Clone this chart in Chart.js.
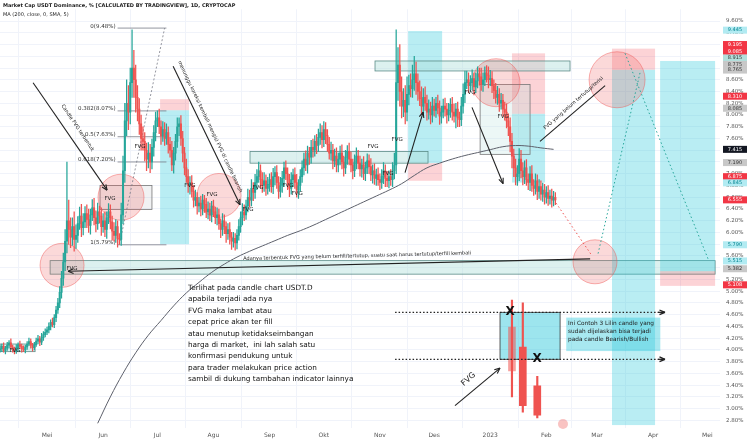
<!DOCTYPE html>
<html>
<head>
<meta charset="utf-8">
<script src="https://cdn.jsdelivr.net/npm/chart.js@4.4.0/dist/chart.umd.min.js"></script>
<style>
  html, body { margin: 0; padding: 0; background: #fff; }
  #wrap { width: 750px; height: 442px; position: relative; }
</style>
</head>
<body>
<div id="wrap"><canvas id="myChart"></canvas></div>
<script>
// day 0 = 1 Mei 2022, first candle = 5 Apr 2022
const firstDay = -26;
const firstOpen = 4.00;
const monthDays = [0, 31, 61, 92, 123, 153, 184, 214, 245, 276, 304, 335, 365];
const monthNames = ['Mei', 'Jun', 'Jul', 'Agu', 'Sep', 'Okt', 'Nov', 'Des', '2023', 'Feb', 'Mar', 'Apr', 'Mei'];
const yTicks = [2.8, 3.0, 3.2, 3.4, 3.6, 3.8, 4.0, 4.2, 4.4, 4.6, 4.8, 5.0, 5.2, 5.4, 5.6, 5.8, 6.0,
    6.2, 6.4, 6.6, 6.8, 7.0, 7.2, 7.4, 7.6, 7.8, 8.0, 8.2, 8.4, 8.6, 8.8, 9.0, 9.2, 9.4, 9.6];

// daily closes (%)
const closes = [
    // Apr
    4.02, 4.06, 3.99, 4.03, 4.08, 4.12, 4.05, 4.01, 3.97, 4.04, 4.09, 4.06, 4.02, 4.00, 4.05, 4.10, 4.14, 4.08, 4.04, 4.09, 4.15, 4.19, 4.13, 4.21, 4.26, 4.30,
    // Mei
    4.34, 4.40, 4.47, 4.43, 4.55, 4.68, 4.80, 4.98, 5.22, 5.50, 5.85, 6.20, 6.05, 5.92, 6.10, 5.88, 5.95, 6.15, 6.28, 6.08, 6.18,
    6.32, 6.22, 6.12, 6.30, 6.42, 6.25, 6.15, 6.35, 6.28, 6.10,
    // Jun
    6.20, 6.05, 6.25, 6.35, 6.18, 6.02, 5.95, 6.10, 5.90, 5.88, 6.30, 7.05, 7.90, 8.20, 8.05, 8.55, 8.80, 8.60, 8.30, 8.10,
    7.85, 7.60, 7.55, 7.40, 7.25, 7.35, 7.20, 7.45, 7.70, 7.90,
    // Jul
    7.95, 7.80, 7.65, 7.75, 7.60, 7.70, 7.50, 7.40, 7.15, 7.35, 7.55, 7.80, 7.85, 7.60, 7.35, 7.10, 6.95, 6.80, 6.85, 6.70,
    6.55, 6.60, 6.45, 6.50, 6.40, 6.55, 6.48, 6.35, 6.40, 6.30, 6.45,
    // Agu
    6.35, 6.25, 6.30, 6.15, 6.05, 6.20, 6.10, 5.98, 6.05, 5.92, 5.85, 5.90, 5.82, 5.95, 6.10, 6.25, 6.35, 6.30, 6.45,
    6.60, 6.55, 6.75, 6.68, 6.85, 6.95, 7.05, 6.90, 6.80, 6.88, 6.75, 6.82,
    // Sep
    6.90, 6.78, 6.95, 7.02, 6.85, 6.70, 6.80, 6.92, 7.10, 7.00, 6.85, 6.75, 6.90, 6.98, 6.85, 6.72, 6.80, 6.95,
    7.10, 7.25, 7.15, 7.35, 7.28, 7.45, 7.40, 7.55, 7.48, 7.62, 7.70, 7.58,
    // Okt
    7.75, 7.65, 7.50, 7.35, 7.40, 7.22, 7.30, 7.15, 7.25, 7.35, 7.20, 7.10, 7.28, 7.38, 7.25, 7.15, 7.05, 7.20, 7.30, 7.18,
    7.08, 7.15, 7.00, 7.10, 7.22, 7.12, 6.98, 7.05, 6.92, 6.98, 6.90,
    // Nov
    6.85, 6.95, 7.05, 6.92, 6.88, 6.95, 6.90, 7.05, 7.15, 8.55, 8.85, 8.40, 8.15, 8.25, 8.05, 8.35, 8.50, 8.45, 8.60, 8.70,
    8.55, 8.40, 8.28, 8.15, 8.30, 8.20, 8.05, 8.10, 8.00, 8.15,
    // Des
    8.08, 8.20, 8.12, 7.98, 8.05, 8.15, 8.10, 8.00, 8.08, 8.18, 8.05, 7.98, 8.10, 7.95, 7.92, 8.15, 8.35, 8.55, 8.60, 8.50,
    8.55, 8.62, 8.48, 8.58, 8.70, 8.65, 8.52, 8.60, 8.72, 8.68, 8.60,
    // Jan 2023
    8.62, 8.50, 8.42, 8.30, 8.35, 8.20, 8.25, 8.10, 8.05, 7.90, 7.80, 7.55, 7.30, 7.10, 6.95, 7.00, 7.25,
    7.05, 6.95, 7.10, 6.90, 6.85, 7.00, 6.80, 6.75, 6.88, 6.70, 6.78, 6.65, 6.72, 6.60,
    // Feb
    6.68, 6.58, 6.62, 6.55, 6.60, 6.555
];
// upper / lower wick length beyond the body, in hundredths of a percent
const wickUp = [
    5,4,6,3,5,4,7,3,4,5, 3,6,4,5,3,4,6,5,3,4, 5,6,4,7,5,6,
    5,6,4,7,5,6,8, 10,12,15,20,100,35, 20,15,25,18,12,15,20,14, 12,15,18,10,14,16,12,15,10,14,
    12,15,10,14,12,10,15,12,10,8, 20,25,30,40, 30,25,65,30,25,20, 18,15,20,15,12,18,15, 14,12,15,
    12,15,10,14,12,15,10,12,15,10, 12,15,10,14, 12,10,15,12,10,12, 10,12,8,10,12,10,8,10,12,10,8,
    10,8,12,10,8,12,10,8,10,12,8,10,8, 10,12,10,14,12,10, 14,12,15,10,14,12,15,10,12,14,10,12,
    10,12,14,10,12,10,14,12,10,12, 10,14,12,10,12,14,10,12, 12,10,14,12,10,12,14,10,12,14,15,12,
    14,12,10,12,14,10,12,14, 10,12,14,10,12,10,14,12,10,12,14,10,12,10,14, 10,12,10,14,10,12,10,12,
    10,12,14,10,12,10,12,14,20, 90,30,35,25, 20,25,30,18,20,25,30,20,15,18,20,15,18,14,16,12,15,
    12,10,14,12,10,12,14,10,12,10,12,14,10, 12,10,15,18,20,15,12, 12,15,10,14,12,10,15,12,10,12,14,
    14,12,10,12,14,10,12,10,12,14,12, 15,14,12,15,14,18, 15,14,12,14,10,12,14,10,12,10,12,10,12,10,
    10,12,10,12,10,8
];
const wickDown = [
    4,5,3,6,4,5,3,5,4,3, 5,4,6,3,5,4,3,5,6,4, 3,5,6,4,5,4,
    4,5,6,4,5,7,6, 8,10,12,15,20,25, 18,14,20,15,12,10,15,12, 10,14,12,15,10,12,14,10,12,15,
    10,12,15,10,12,15,10,12,15,8, 10,15,20,25, 30,20,25,30,25,20, 18,20,15,18,20,15,18, 12,15,14,
    10,12,15,10,12,10,15,12,10,14, 12,10,15,12, 15,12,10,12,15,10, 12,10,14,10,12,10,14,10,12,10,12,
    8,10,12,10,14,10,12,15,10,12,14,10,12, 10,8,10,12,10,8, 10,12,10,14,10,12,10,14,12,10,12,10,
    12,10,12,14,10,12,10,12,14,10, 12,14,10,12,10,12,14,10, 10,12,10,14,12,10,12,10,14,10,12,14,
    12,14,12,10,12,14,10,12, 12,10,12,14,10,12,10,12,14,10,12,10,12,14,10, 12,10,12,10,14,10,12,10,
    12,10,12,14,10,12,10,12,14, 15,30,25,20, 18,20,15,18,14,15,18,20,15,12,14,15,12,14,12,15,12,
    10,12,10,14,12,10,12,14,10,12,14,10,20, 15,12,10,12,14,10,12, 10,12,14,10,12,14,10,12,10,12,14,
    10,12,14,10,12,14,10,12,14,12,15, 18,20,15,14,15,12, 12,14,12,10,12,14,10,12,10,14,12,10,12,12,
    10,12,10,12,10,8
];

// MA 200
const maDays = [28, 35, 42, 49, 56, 63, 70, 77, 84, 91, 98, 105, 112, 119, 126, 133, 140, 147, 154, 161, 168,
    175, 182, 189, 196, 203, 210, 217, 224, 231, 238, 245, 252, 259, 266, 273, 280];
const maValues = [2.75, 3.20, 3.60, 3.95, 4.25, 4.50, 4.75, 4.97, 5.15, 5.32, 5.46, 5.58, 5.68, 5.77, 5.86, 5.95, 6.03,
    6.12, 6.22, 6.32, 6.42, 6.52, 6.62, 6.72, 6.83, 6.97, 7.10, 7.18, 7.25, 7.31, 7.36, 7.41, 7.46, 7.48, 7.47, 7.44, 7.415];

// the 3-candle example drawn in the lower right
const demoDays = [257, 263, 271];
const demoOpen = [4.39, 4.05, 3.39];
const demoClose = [3.64, 3.05, 2.89];
const demoHigh = [4.85, 4.80, 3.55];
const demoLow = [3.20, 2.94, 2.84];

const upColor = '#26a69a';
const downColor = '#ef5350';

let bodyData = [], wickData = [], bodyColors = [];
closes.forEach(function(c, i) {
    let o = i === 0 ? firstOpen : closes[i - 1];
    let d = firstDay + i;
    let top = Math.max(o, c), bot = Math.min(o, c);
    if (top - bot < 0.01) { top += 0.005; bot -= 0.005; }
    bodyData.push({ x: d, y: [bot, top] });
    wickData.push({ x: d, y: [bot - wickDown[i] / 100, top + wickUp[i] / 100] });
    bodyColors.push(c >= o ? upColor : downColor);
});

let demoBody = demoDays.map((d, i) => ({ x: d, y: [demoClose[i], demoOpen[i]] }));
let demoWick = demoDays.map((d, i) => ({ x: d, y: [demoLow[i], demoHigh[i]] }));
let maData = maDays.map((d, i) => ({ x: d, y: maValues[i] }));

// drawings on the chart (days / percent)
const teal = 'rgba(38,198,218,0.32)';
const pink = 'rgba(242,54,69,0.22)';
const boxes = [
    // [d1, d2, p1, p2, fill, stroke]
    [1.7, 369.3, 5.52, 5.29, 'rgba(178,223,219,0.45)', '#5b8c88'],
    [-26, -6.6, 4.10, 3.97, 'rgba(178,223,219,0.45)', '#5b8c88'],
    [29.3, 58.0, 6.80, 6.39, 'rgba(120,123,134,0.10)', '#777'],
    [62.5, 78.5, 8.27, 8.08, pink, null],
    [62.5, 78.5, 8.08, 5.80, teal, null],
    [199.6, 218.4, 9.43, 7.18, teal, null],
    [199.6, 218.4, 7.18, 6.88, pink, null],
    [257.0, 275.3, 9.05, 8.02, pink, null],
    [257.0, 275.3, 8.02, 6.85, teal, null],
    [239.4, 267.0, 8.52, 7.33, 'rgba(178,223,219,0.25)', '#777'],
    [181.3, 289.1, 8.92, 8.75, 'rgba(178,223,219,0.45)', '#5b8c88'],
    [112.2, 210.6, 7.38, 7.18, 'rgba(178,223,219,0.45)', '#5b8c88'],
    [312.3, 336.1, 9.13, 8.77, pink, null],
    [312.3, 336.1, 8.77, 2.72, teal, null],
    [338.9, 369.3, 8.92, 5.34, teal, null],
    [338.9, 369.3, 5.34, 5.09, pink, null],
    [250.4, 283.6, 4.64, 3.84, 'rgba(38,198,218,0.45)', '#333']
];
const circles = [
    // [d, p, radius px]
    [8.3, 5.44, 22], [40.9, 6.60, 23], [95.1, 6.63, 22], [248.2, 8.55, 24], [315.1, 8.60, 28], [302.9, 5.50, 22]
];
const arrows = [
    // [d1, p1, d2, p2, head]
    [-7.7, 8.55, 33.2, 6.72, true],
    [69.7, 8.83, 106.7, 6.47, true],
    [197.9, 7.02, 207.9, 8.05, true],
    [234.9, 8.13, 252.1, 6.83, true],
    [272.5, 7.55, 308.5, 8.50, false],
    [300.2, 5.55, 11.6, 5.34, true],
    [225.5, 3.05, 250.4, 3.69, true]
];
const fibLevels = [[0, 9.48], [0.382, 8.07], [0.5, 7.63], [0.618, 7.20], [1, 5.79]];
const fvgLabels = [
    [-17.7, 3.99], [13.8, 5.39], [34.8, 6.58], [51.4, 7.47], [79.0, 6.80], [91.2, 6.65], [111.1, 6.39],
    [116.6, 6.77], [133.2, 6.80], [138.2, 6.67], [180.2, 7.47], [188.5, 7.00], [193.5, 7.58], [233.8, 8.38], [252.1, 7.98]
];
const noteLines = [
    'Terlihat pada candle chart USDT.D',
    'apabila terjadi ada nya',
    'FVG maka lambat atau',
    'cepat price akan ter fill',
    'atau menutup ketidakseimbangan',
    'harga di market,  ini lah salah satu',
    'konfirmasi pendukung untuk',
    'para trader melakukan price action',
    'sambil di dukung tambahan indicator lainnya'
];
const demoNote = ['Ini Contoh 3 Lilin candle yang', 'sudah dijelaskan bisa terjadi', 'pada candle Bearish/Bullish'];
const priceTags = [
    // [price, text, bg, fg]
    [9.445, '9.445', '#b2ebf2', '#00838f'],
    [9.20, '9.195', '#f23645', '#fff'],
    [9.085, '9.085', '#f23645', '#fff'],
    [8.97, '8.915', '#b2dfdb', '#333'],
    [8.86, '8.775', '#c8c8c8', '#333'],
    [8.765, '8.765', '#c8c8c8', '#333'],
    [8.32, '8.310', '#f23645', '#fff'],
    [8.115, '8.085', '#c8c8c8', '#333'],
    [7.415, '7.415', '#131722', '#fff'],
    [7.19, '7.190', '#c8c8c8', '#333'],
    [6.95, '6.875', '#f23645', '#fff'],
    [6.845, '6.845', '#b2ebf2', '#00838f'],
    [6.555, '6.555', '#f23645', '#fff'],
    [5.79, '5.790', '#b2ebf2', '#00838f'],
    [5.515, '5.515', '#b2ebf2', '#00838f'],
    [5.382, '5.382', '#c8c8c8', '#333'],
    [5.108, '5.108', '#f23645', '#fff']
];

function arrow(ctx, x1, y1, x2, y2, head) {
    ctx.beginPath();
    ctx.moveTo(x1, y1);
    ctx.lineTo(x2, y2);
    ctx.stroke();
    if (!head) return;
    let a = Math.atan2(y2 - y1, x2 - x1);
    ctx.beginPath();
    ctx.moveTo(x2, y2);
    ctx.lineTo(x2 - 6 * Math.cos(a - 0.4), y2 - 6 * Math.sin(a - 0.4));
    ctx.moveTo(x2, y2);
    ctx.lineTo(x2 - 6 * Math.cos(a + 0.4), y2 - 6 * Math.sin(a + 0.4));
    ctx.stroke();
}

function rotText(ctx, text, x, y, angle) {
    ctx.save();
    ctx.translate(x, y);
    ctx.rotate(angle);
    ctx.fillText(text, 0, 0);
    ctx.restore();
}

const drawings = {
    id: 'drawings',
    beforeDatasetsDraw(chart) {
        const { ctx, scales: { x, y } } = chart;
        const X = d => x.getPixelForValue(d), Y = p => y.getPixelForValue(p);
        ctx.save();
        boxes.forEach(b => {
            let x1 = X(b[0]), x2 = X(b[1]), y1 = Y(b[2]), y2 = Y(b[3]);
            ctx.fillStyle = b[4];
            ctx.fillRect(x1, y1, x2 - x1, y2 - y1);
            if (b[5]) {
                ctx.strokeStyle = b[5];
                ctx.lineWidth = 0.8;
                ctx.strokeRect(x1, y1, x2 - x1, y2 - y1);
            }
        });
        circles.forEach(c => {
            ctx.beginPath();
            ctx.arc(X(c[0]), Y(c[1]), c[2], 0, Math.PI * 2);
            ctx.fillStyle = 'rgba(239,83,80,0.22)';
            ctx.fill();
            ctx.strokeStyle = 'rgba(239,83,80,0.45)';
            ctx.lineWidth = 1;
            ctx.stroke();
        });
        // fib retracement
        ctx.strokeStyle = '#787b86';
        ctx.lineWidth = 0.8;
        ctx.font = '5.5px "DejaVu Sans"';
        ctx.fillStyle = '#333';
        ctx.textAlign = 'right';
        ctx.textBaseline = 'middle';
        fibLevels.forEach(f => {
            ctx.beginPath();
            ctx.moveTo(X(39), Y(f[1]));
            ctx.lineTo(X(66), Y(f[1]));
            ctx.stroke();
            ctx.fillText(f[0] + '(' + f[1].toFixed(2) + '%)', X(39) - 2, Y(f[1]) - 2);
        });
        ctx.setLineDash([2, 2]);
        ctx.beginPath();
        ctx.moveTo(X(40), Y(5.79));
        ctx.lineTo(X(65), Y(9.48));
        ctx.stroke();
        ctx.restore();
    },
    afterDatasetsDraw(chart) {
        const { ctx, scales: { x, y } } = chart;
        const X = d => x.getPixelForValue(d), Y = p => y.getPixelForValue(p);
        ctx.save();
        // arrows
        ctx.strokeStyle = '#222';
        ctx.lineWidth = 1.1;
        arrows.forEach(a => arrow(ctx, X(a[0]), Y(a[1]), X(a[2]), Y(a[3]), a[4]));

        // projection dotted lines
        ctx.lineWidth = 1;
        ctx.setLineDash([1.5, 2.5]);
        ctx.strokeStyle = '#ef5350';
        ctx.beginPath(); ctx.moveTo(X(281.4), Y(6.50)); ctx.lineTo(X(301.3), Y(5.60)); ctx.stroke();
        ctx.strokeStyle = '#26a69a';
        ctx.beginPath(); ctx.moveTo(X(304.6), Y(5.64)); ctx.lineTo(X(327.8), Y(8.72)); ctx.stroke();
        ctx.beginPath(); ctx.moveTo(X(319.5), Y(9.05)); ctx.lineTo(X(365.4), Y(5.55)); ctx.stroke();
        // example lines
        ctx.strokeStyle = '#222';
        ctx.lineWidth = 1.3;
        ctx.setLineDash([1.5, 2]);
        [4.64, 3.84].forEach(p => {
            ctx.beginPath(); ctx.moveTo(X(192.4), Y(p)); ctx.lineTo(X(341.6), Y(p)); ctx.stroke();
        });
        ctx.setLineDash([]);
        [4.64, 3.84].forEach(p => arrow(ctx, X(338), Y(p), X(341.6), Y(p), true));

        // X marks
        ctx.fillStyle = '#111';
        ctx.font = 'bold 12px "DejaVu Sans"';
        ctx.textAlign = 'center';
        ctx.textBaseline = 'middle';
        ctx.fillText('X', X(256), Y(4.64));
        ctx.fillText('X', X(270.9), Y(3.84));

        // FVG labels
        ctx.font = '5.5px "DejaVu Sans"';
        ctx.fillStyle = '#222';
        fvgLabels.forEach(l => ctx.fillText('FVG', X(l[0]), Y(l[1])));

        // rotated notes
        ctx.font = '5px "DejaVu Sans"';
        rotText(ctx, 'Candle FVG terbentuk', X(16.9), Y(7.78), 0.98);
        rotText(ctx, 'menunggu koreksi kembali mengisi FVG di candle bearish', X(90.1), Y(7.80), 1.13);
        rotText(ctx, 'FVG yang belum tertutup/terisi', X(291), Y(8.20), -0.72);
        rotText(ctx, 'Adanya terbentuk FVG yang belum terfill/tertutup, suatu saat harus tertutup/terfill kembali', X(171.4), Y(5.60), -0.025);
        ctx.font = '8px "DejaVu Sans"';
        rotText(ctx, 'FVG', X(233), Y(3.50), -0.72);

        // main note
        ctx.font = '7.3px "DejaVu Sans"';
        ctx.fillStyle = '#111';
        ctx.textAlign = 'left';
        ctx.textBaseline = 'alphabetic';
        noteLines.forEach((t, i) => ctx.fillText(t, 188, 290 + i * 11.4));
        // example note
        ctx.fillStyle = 'rgba(38,198,218,0.4)';
        ctx.fillRect(X(287), Y(4.55), X(339) - X(287), Y(3.98) - Y(4.55));
        ctx.fillStyle = '#222';
        ctx.font = '5.8px "DejaVu Sans"';
        demoNote.forEach((t, i) => ctx.fillText(t, X(288), Y(4.42) + i * 8));
        ctx.restore();
    },
    afterDraw(chart) {
        const { ctx, scales: { x, y }, chartArea } = chart;
        ctx.save();
        // header
        ctx.fillStyle = '#222';
        ctx.font = 'bold 5px "DejaVu Sans"';
        ctx.textAlign = 'left';
        ctx.textBaseline = 'middle';
        ctx.fillText('Market Cap USDT Dominance, % [CALCULATED BY TRADINGVIEW], 1D, CRYPTOCAP', 3, 6);
        ctx.font = '5px "DejaVu Sans"';
        ctx.fillText('MA (200, close, 0, SMA, 5)', 3, 15);
        // price tags
        ctx.textAlign = 'center';
        priceTags.forEach(t => {
            let py = y.getPixelForValue(t[0]);
            ctx.fillStyle = t[2];
            ctx.fillRect(chartArea.right + 3, py - 3.5, 24, 7);
            ctx.fillStyle = t[3];
            ctx.fillText(t[1], chartArea.right + 15, py);
        });
        // event icon near Feb
        ctx.beginPath();
        ctx.arc(x.getPixelForValue(285.2), chartArea.bottom - 4, 5, 0, Math.PI * 2);
        ctx.fillStyle = 'rgba(239,83,80,0.35)';
        ctx.fill();
        ctx.restore();
    }
};

let ctx = document.getElementById('myChart').getContext('2d');

let myChart = new Chart(ctx, {
    type: 'bar',
    data: {
        datasets: [
            { type: 'line', data: maData, borderColor: '#5d606b', borderWidth: 1, pointRadius: 0, tension: 0.4, order: 0 },
            { data: wickData, backgroundColor: bodyColors, barThickness: 0.6, grouped: false, order: 2 },
            { data: bodyData, backgroundColor: bodyColors, barThickness: 1.4, grouped: false, order: 1 },
            { data: demoWick, backgroundColor: '#ef5350', barThickness: 1.5, grouped: false, order: 2 },
            { data: demoBody, backgroundColor: ['rgba(239,83,80,0.55)', '#ef5350', '#ef5350'], barThickness: 7, grouped: false, order: 1 }
        ]
    },
    options: {
        responsive: true,
        maintainAspectRatio: false,
        animation: false,
        layout: { padding: 0 },
        plugins: { legend: { display: false }, tooltip: { enabled: false } },
        scales: {
            x: {
                type: 'linear',
                min: -26,
                max: 372,
                offset: false,
                grid: { color: '#f0f3fa', drawTicks: false },
                border: { display: false },
                ticks: {
                    autoSkip: false,
                    maxRotation: 0,
                    padding: 4,
                    color: '#555',
                    font: { size: 6, family: 'DejaVu Sans' },
                    callback: v => monthNames[monthDays.indexOf(v)]
                },
                afterBuildTicks: s => { s.ticks = monthDays.map(v => ({ value: v })); },
                afterFit: s => { s.height = 14; }
            },
            y: {
                position: 'right',
                min: 2.67,
                max: 9.8,
                grid: { color: '#f0f3fa', drawTicks: false },
                border: { display: false },
                ticks: {
                    autoSkip: false,
                    padding: 6,
                    color: '#555',
                    font: { size: 5.5, family: 'DejaVu Sans' },
                    callback: v => v.toFixed(2) + '%'
                },
                afterBuildTicks: s => { s.ticks = yTicks.map(v => ({ value: v })); },
                afterFit: s => { s.width = 30; }
            }
        }
    },
    plugins: [drawings]
});
</script>
</body>
</html>
